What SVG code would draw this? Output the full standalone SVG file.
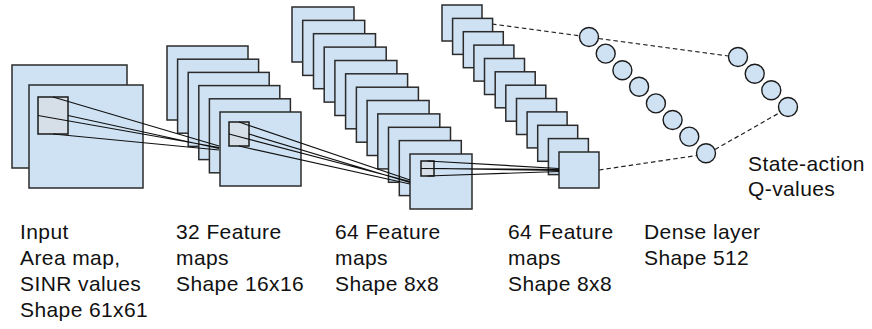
<svg xmlns="http://www.w3.org/2000/svg" width="872" height="329" viewBox="0 0 872 329">
  <style>
    .map { fill: #cfe2f3; stroke: #2b2b2b; stroke-width: 1.5; }
    .win { fill: #d6dee7; stroke: #1a1a1a; stroke-width: 1.5; }
    .unit { fill: #cfe2f3; stroke: #1a1a1a; stroke-width: 1.4; }
    .ray { stroke: #111; stroke-width: 1.2; fill: none; }
    .link { stroke: #222; stroke-width: 1.2; fill: none; stroke-dasharray: 4.5 3; }
    text { font-family: "Liberation Sans", Arial, Helvetica, sans-serif; font-size: 21px; letter-spacing: 0.4px; fill: #111; }
  </style>
  <rect width="872" height="329" fill="#ffffff"/>

  <!-- input layer: 61x61 area map and SINR values -->
  <g id="input">
    <rect class="map" x="12" y="65" width="115" height="103"/>
    <rect class="map" x="29" y="85" width="114" height="103"/>
    <rect class="win" x="38" y="97" width="30" height="37"/>
  </g>

  <!-- first convolution: 32 feature maps, 16x16 -->
  <g id="conv1">
    <rect class="map" x="167" y="46" width="81" height="74"/>
    <rect class="map" x="177.6" y="59.2" width="81" height="74"/>
    <rect class="map" x="188.2" y="72.4" width="81" height="74"/>
    <rect class="map" x="198.8" y="85.6" width="81" height="74"/>
    <rect class="map" x="209.4" y="98.8" width="81" height="74"/>
    <rect class="map" x="220" y="112" width="81" height="74"/>
    <rect class="win" x="229" y="122" width="20" height="24"/>
  </g>

  <!-- second convolution: 64 feature maps, 8x8 -->
  <g id="conv2">
    <rect class="map" x="292" y="7" width="62" height="55"/>
    <rect class="map" x="302.7" y="20.4" width="62" height="55"/>
    <rect class="map" x="313.5" y="33.7" width="62" height="55"/>
    <rect class="map" x="324.2" y="47.1" width="62" height="55"/>
    <rect class="map" x="334.9" y="60.5" width="62" height="55"/>
    <rect class="map" x="345.6" y="73.8" width="62" height="55"/>
    <rect class="map" x="356.4" y="87.2" width="62" height="55"/>
    <rect class="map" x="367.1" y="100.5" width="62" height="55"/>
    <rect class="map" x="377.8" y="113.9" width="62" height="55"/>
    <rect class="map" x="388.5" y="127.3" width="62" height="55"/>
    <rect class="map" x="399.3" y="140.6" width="62" height="55"/>
    <rect class="map" x="410" y="154" width="62" height="55"/>
    <rect class="win" x="421" y="161" width="13" height="15"/>
  </g>

  <!-- third convolution: 64 feature maps, 8x8 -->
  <g id="conv3">
    <rect class="map" x="442" y="5" width="40" height="36"/>
    <rect class="map" x="452.6" y="18.4" width="40" height="36"/>
    <rect class="map" x="463.3" y="31.7" width="40" height="36"/>
    <rect class="map" x="473.9" y="45.1" width="40" height="36"/>
    <rect class="map" x="484.5" y="58.5" width="40" height="36"/>
    <rect class="map" x="495.2" y="71.8" width="40" height="36"/>
    <rect class="map" x="505.8" y="85.2" width="40" height="36"/>
    <rect class="map" x="516.5" y="98.5" width="40" height="36"/>
    <rect class="map" x="527.1" y="111.9" width="40" height="36"/>
    <rect class="map" x="537.7" y="125.3" width="40" height="36"/>
    <rect class="map" x="548.4" y="138.6" width="40" height="36"/>
    <rect class="map" x="559" y="152" width="40" height="36"/>
  </g>

  <!-- receptive-field rays and dense connections -->
  <g id="connectors">
    <path class="ray" d="M53 97 L219 146 M38 115.5 L219 147.5 M68 115.5 L219 148.5 M53 134 L219 150"/>
    <path class="ray" d="M239 122 L410 180 M229 134 L410 181.5 M249 134 L410 182.5 M239 146 L410 184"/>
    <path class="ray" d="M427.5 161 L559 168.5 M421 168.5 L559 169.5 M434 168.5 L559 170.5 M427.5 176 L559 171.5"/>
    <path class="link" d="M492 24 L579.5 35.8"/>
    <path class="link" d="M599 170 L697 155.5"/>
    <path class="link" d="M598.5 38.5 L728.5 56"/>
    <path class="link" d="M715 149.5 L780 112.5"/>
  </g>

  <!-- dense layer: 512 units -->
  <g id="dense">
    <circle class="unit" cx="589" cy="37" r="9.5"/>
    <circle class="unit" cx="605.7" cy="53.6" r="9.5"/>
    <circle class="unit" cx="622.4" cy="70.2" r="9.5"/>
    <circle class="unit" cx="639.1" cy="86.8" r="9.5"/>
    <circle class="unit" cx="655.9" cy="103.4" r="9.5"/>
    <circle class="unit" cx="672.6" cy="120" r="9.5"/>
    <circle class="unit" cx="689.3" cy="136.6" r="9.5"/>
    <circle class="unit" cx="706" cy="153.2" r="9.5"/>
  </g>

  <!-- output: state-action Q-values -->
  <g id="output">
    <circle class="unit" cx="738" cy="57" r="9.5"/>
    <circle class="unit" cx="754.7" cy="73.7" r="9.5"/>
    <circle class="unit" cx="771.3" cy="90.3" r="9.5"/>
    <circle class="unit" cx="788" cy="107" r="9.5"/>
  </g>

  <!-- captions -->
  <g id="labels">
    <text x="20" y="239">Input</text>
    <text x="20" y="265">Area map,</text>
    <text x="20" y="291">SINR values</text>
    <text x="20" y="317">Shape 61x61</text>
    <text x="176" y="239">32 Feature</text>
    <text x="176" y="265">maps</text>
    <text x="176" y="291">Shape 16x16</text>
    <text x="335" y="239">64 Feature</text>
    <text x="335" y="265">maps</text>
    <text x="335" y="291">Shape 8x8</text>
    <text x="508" y="239">64 Feature</text>
    <text x="508" y="265">maps</text>
    <text x="508" y="291">Shape 8x8</text>
    <text x="644" y="239">Dense layer</text>
    <text x="644" y="265">Shape 512</text>
    <text x="748" y="171">State-action</text>
    <text x="748" y="196">Q-values</text>
  </g>
</svg>
